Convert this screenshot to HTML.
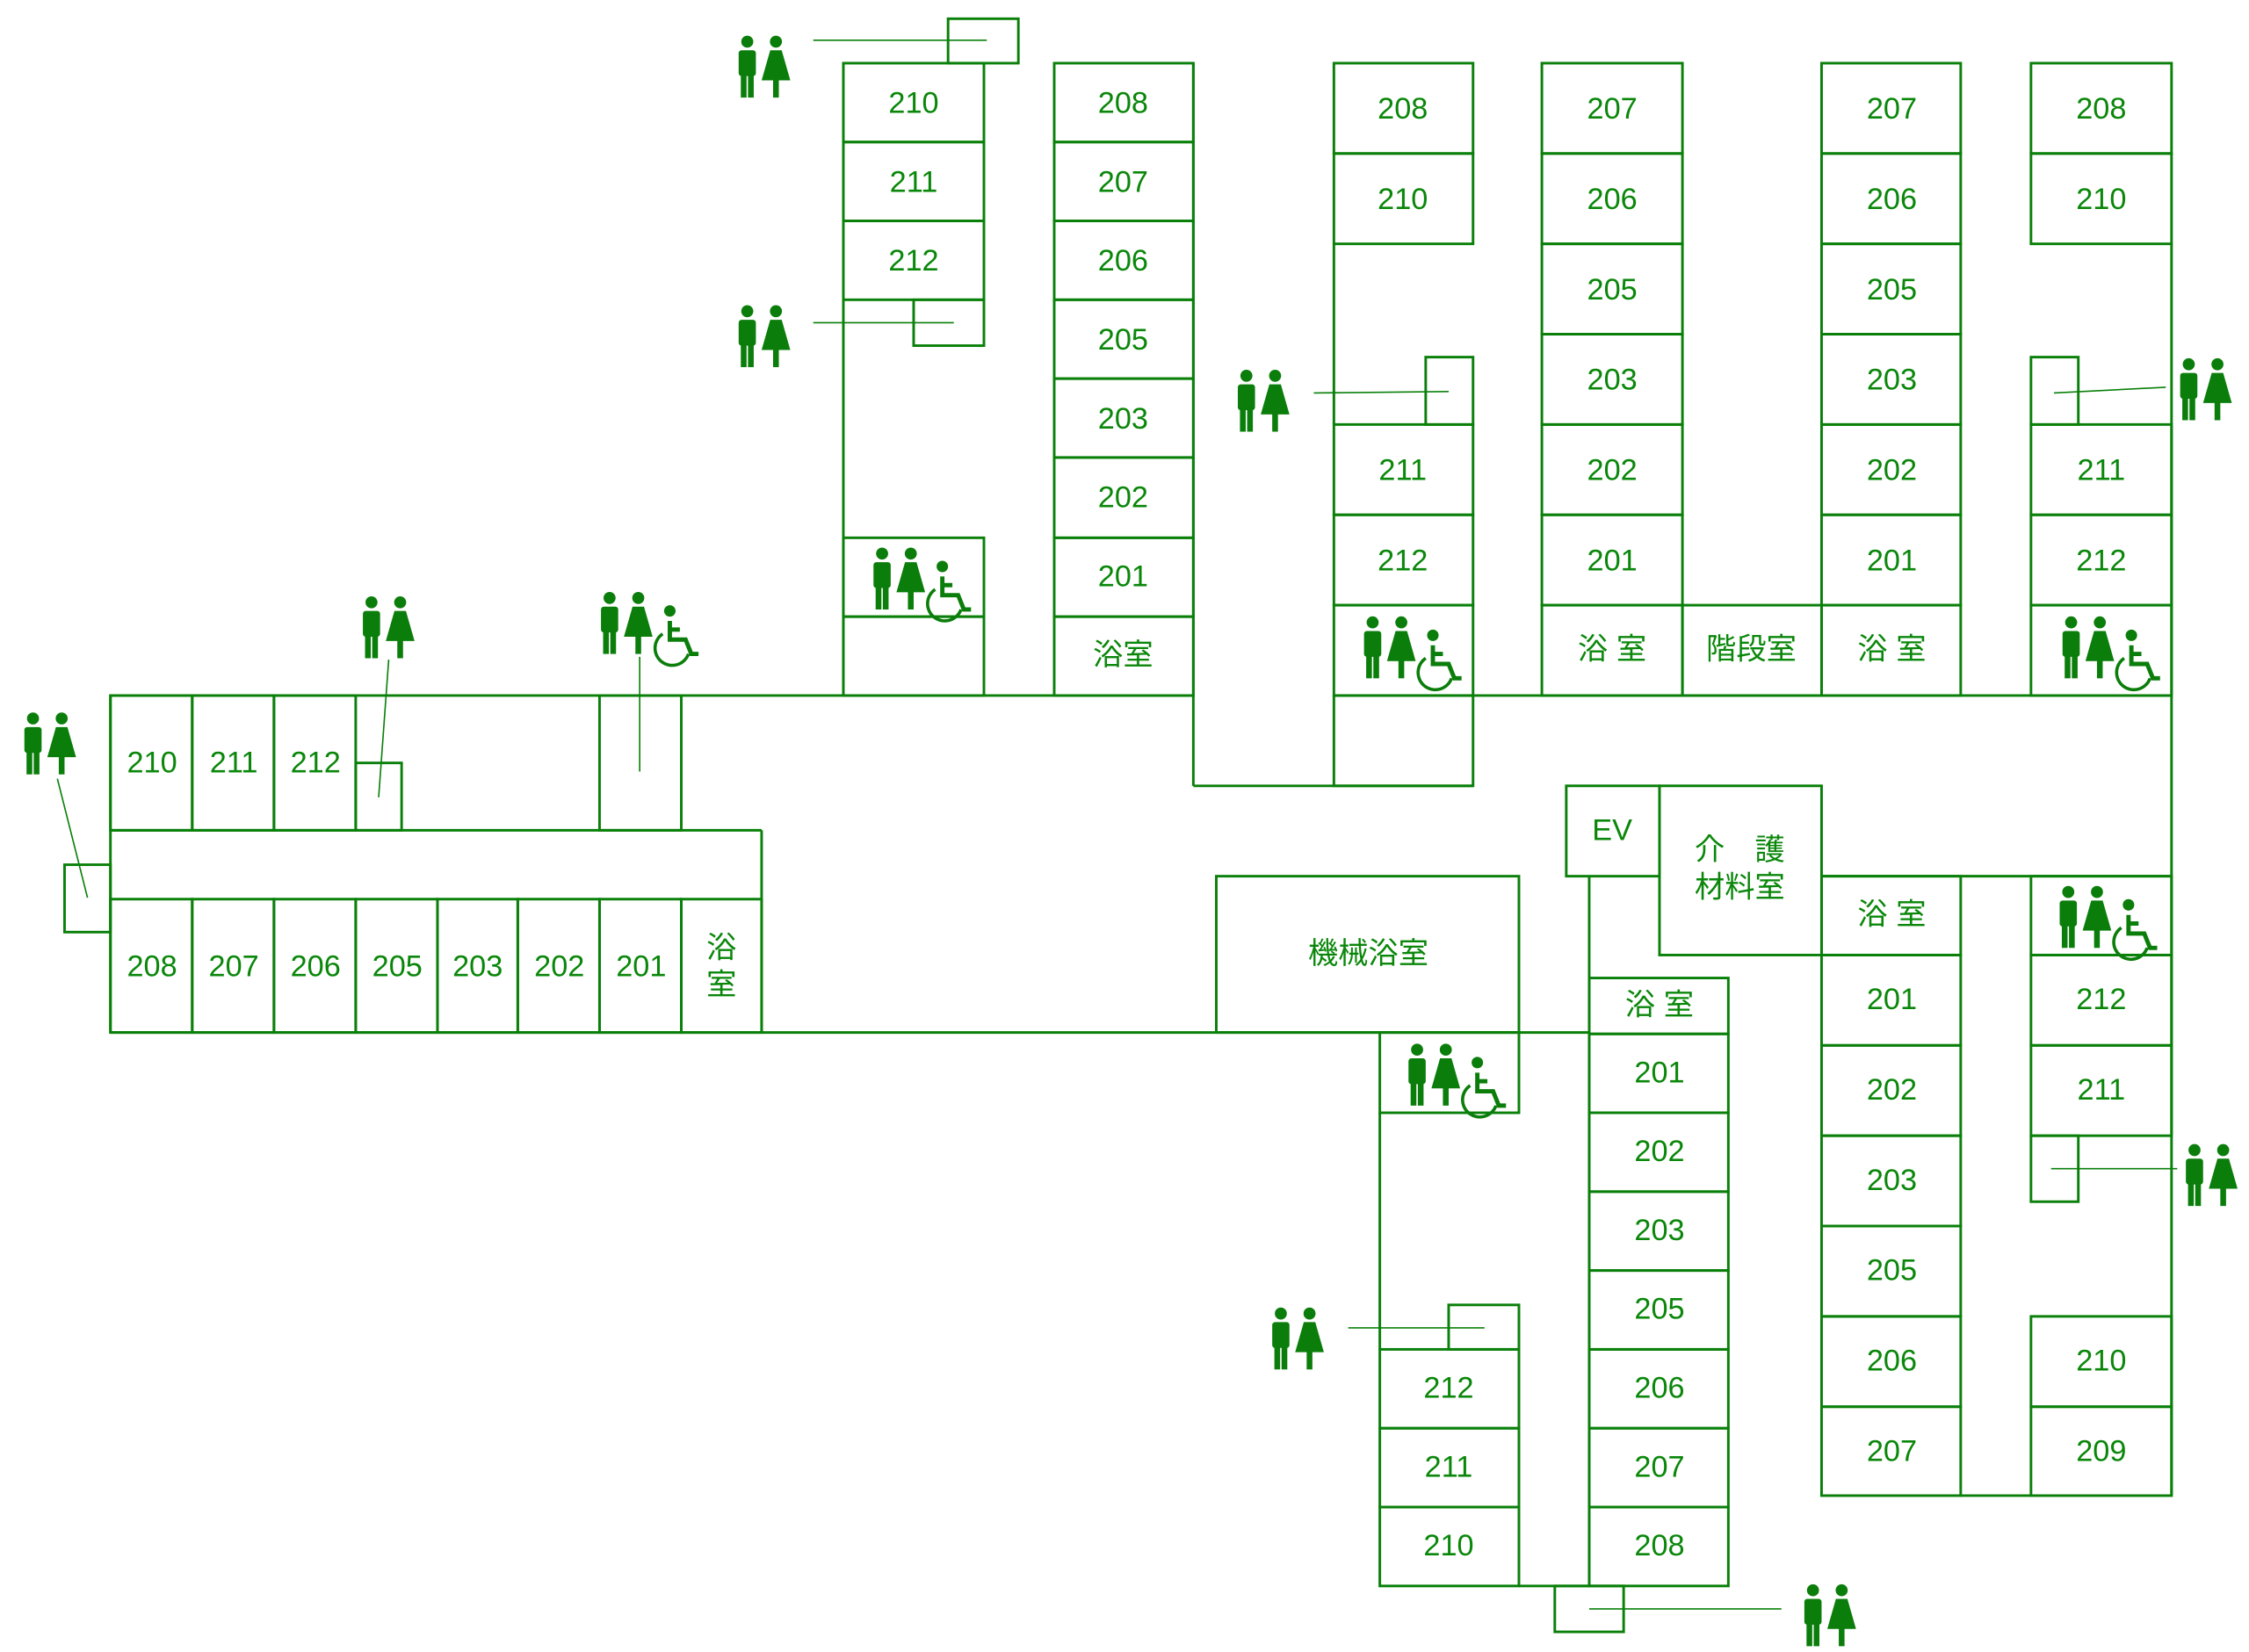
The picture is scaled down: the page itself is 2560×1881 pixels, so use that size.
<!DOCTYPE html>
<html><head><meta charset="utf-8"><style>
html,body{margin:0;padding:0;background:#fff;}
svg{display:block}
text{font-family:"Liberation Sans","Noto Sans CJK JP",sans-serif;fill:#0a870a;font-size:21px;text-anchor:middle;dominant-baseline:central}
</style></head><body>
<svg width="2560" height="1881" viewBox="0 0 1568 1152" xmlns="http://www.w3.org/2000/svg">
<defs>
<g id="mw" fill="#0a7d0a">
<circle cx="7" cy="4" r="4.2"/>
<rect x="1" y="10" width="12" height="18" rx="2"/>
<rect x="2.5" y="27" width="4" height="16"/><rect x="7.5" y="27" width="4" height="16"/>
<circle cx="27" cy="4" r="4.2"/>
<polygon points="23,10 31,10 37,31 17,31"/>
<rect x="25" y="30" width="4" height="13"/>
</g>
<g id="wc" fill="none" stroke="#0a7d0a" stroke-width="3">
<circle cx="9" cy="3" r="4" fill="#0a7d0a" stroke="none"/>
<path d="M9 10 V23 H20 L24 33 H29"/>
<path d="M9 16 H16"/>
<path d="M4 19 A12 12 0 1 0 22 33" stroke-width="2.2"/>
</g>
</defs>
<g fill="none" stroke="#0a800a" stroke-width="1.8">
<rect x="661" y="13" width="49" height="31"/>
<rect x="588" y="44" width="98" height="55"/><rect x="588" y="99" width="98" height="55"/><rect x="588" y="154" width="98" height="55"/>
<rect x="637" y="209" width="49" height="32"/>
<line x1="588" y1="209" x2="588" y2="485"/>
<rect x="588" y="375" width="98" height="55"/><rect x="588" y="430" width="98" height="55"/>
<rect x="735" y="44" width="97" height="55"/><rect x="735" y="99" width="97" height="55"/><rect x="735" y="154" width="97" height="55"/><rect x="735" y="209" width="97" height="55"/><rect x="735" y="264" width="97" height="55"/><rect x="735" y="319" width="97" height="56"/><rect x="735" y="375" width="97" height="55"/><rect x="735" y="430" width="97" height="55"/>
<line x1="832" y1="44" x2="832" y2="548"/><line x1="832" y1="548" x2="1027" y2="548"/>
<rect x="930" y="44" width="97" height="63"/><rect x="930" y="107" width="97" height="63"/>
<line x1="930" y1="170" x2="930" y2="296"/>
<rect x="994" y="249" width="33" height="47"/>
<rect x="930" y="296" width="97" height="63"/><rect x="930" y="359" width="97" height="63"/><rect x="930" y="422" width="97" height="63"/><rect x="930" y="485" width="97" height="63"/>
<rect x="1075" y="44" width="98" height="63"/><rect x="1075" y="107" width="98" height="63"/><rect x="1075" y="170" width="98" height="63"/><rect x="1075" y="233" width="98" height="63"/><rect x="1075" y="296" width="98" height="63"/><rect x="1075" y="359" width="98" height="63"/><rect x="1075" y="422" width="98" height="63"/>
<rect x="1173" y="422" width="97" height="63"/>
<rect x="1270" y="44" width="97" height="63"/><rect x="1270" y="107" width="97" height="63"/><rect x="1270" y="170" width="97" height="63"/><rect x="1270" y="233" width="97" height="63"/><rect x="1270" y="296" width="97" height="63"/><rect x="1270" y="359" width="97" height="63"/><rect x="1270" y="422" width="97" height="63"/>
<rect x="1416" y="44" width="98" height="63"/><rect x="1416" y="107" width="98" height="63"/>
<rect x="1416" y="249" width="33" height="47"/>
<rect x="1416" y="296" width="98" height="63"/><rect x="1416" y="359" width="98" height="63"/><rect x="1416" y="422" width="98" height="63"/>
<line x1="1514" y1="170" x2="1514" y2="1043"/>
<line x1="77" y1="485" x2="832" y2="485"/><line x1="1027" y1="485" x2="1514" y2="485"/>
<rect x="77" y="485" width="57" height="94"/><rect x="134" y="485" width="57" height="94"/><rect x="191" y="485" width="57" height="94"/>
<rect x="248" y="532" width="32" height="47"/>
<rect x="418" y="485" width="57" height="94"/>
<line x1="77" y1="579" x2="531" y2="579"/><line x1="531" y1="579" x2="531" y2="720"/>
<rect x="45" y="603" width="32" height="47"/>
<line x1="77" y1="485" x2="77" y2="720"/>
<rect x="77" y="627" width="57" height="93"/><rect x="134" y="627" width="57" height="93"/><rect x="191" y="627" width="57" height="93"/><rect x="248" y="627" width="57" height="93"/><rect x="305" y="627" width="56" height="93"/><rect x="361" y="627" width="57" height="93"/><rect x="418" y="627" width="57" height="93"/><rect x="475" y="627" width="56" height="93"/>
<line x1="77" y1="720" x2="1108" y2="720"/>
<rect x="848" y="611" width="211" height="109"/>
<rect x="1092" y="548" width="65" height="63"/>
<rect x="1157" y="548" width="113" height="118"/>
<line x1="1108" y1="611" x2="1108" y2="1106"/>
<line x1="1270" y1="611" x2="1514" y2="611"/>
<rect x="1270" y="611" width="97" height="55"/><rect x="1270" y="666" width="97" height="63"/><rect x="1270" y="729" width="97" height="63"/><rect x="1270" y="792" width="97" height="63"/><rect x="1270" y="855" width="97" height="63"/><rect x="1270" y="918" width="97" height="63"/><rect x="1270" y="981" width="97" height="62"/>
<rect x="1416" y="611" width="98" height="55"/><rect x="1416" y="666" width="98" height="63"/><rect x="1416" y="729" width="98" height="63"/>
<rect x="1416" y="792" width="33" height="46"/>
<rect x="1416" y="918" width="98" height="63"/><rect x="1416" y="981" width="98" height="62"/>
<line x1="1367" y1="1043" x2="1416" y2="1043"/>
<rect x="1108" y="682" width="97" height="39"/><rect x="1108" y="721" width="97" height="55"/><rect x="1108" y="776" width="97" height="55"/><rect x="1108" y="831" width="97" height="55"/><rect x="1108" y="886" width="97" height="55"/><rect x="1108" y="941" width="97" height="55"/><rect x="1108" y="996" width="97" height="55"/><rect x="1108" y="1051" width="97" height="55"/>
<rect x="962" y="720" width="97" height="56"/>
<line x1="962" y1="776" x2="962" y2="941"/>
<rect x="1010" y="910" width="49" height="31"/>
<rect x="962" y="941" width="97" height="55"/><rect x="962" y="996" width="97" height="55"/><rect x="962" y="1051" width="97" height="55"/>
<line x1="1059" y1="1106" x2="1108" y2="1106"/>
<rect x="1084" y="1106" width="48" height="32"/>
</g>
<g stroke="#0a800a" stroke-width="1">
<line x1="567" y1="28" x2="688" y2="28"/>
<line x1="567" y1="225" x2="665" y2="225"/>
<line x1="916" y1="274" x2="1010" y2="273"/>
<line x1="1432" y1="274" x2="1510" y2="270"/>
<line x1="271" y1="460" x2="264" y2="556"/>
<line x1="446" y1="458" x2="446" y2="538"/>
<line x1="40" y1="543" x2="61" y2="626"/>
<line x1="1430" y1="815" x2="1518" y2="815"/>
<line x1="940" y1="926" x2="1035" y2="926"/>
<line x1="1108" y1="1122" x2="1242" y2="1122"/>
</g>
<use href="#mw" x="514" y="25"/>
<use href="#mw" x="514" y="213"/>
<use href="#mw" x="862" y="258"/>
<use href="#mw" x="1519" y="250"/>
<use href="#mw" x="252" y="416"/>
<use href="#mw" x="16" y="497"/>
<use href="#mw" x="1523" y="798"/>
<use href="#mw" x="886" y="912"/>
<use href="#mw" x="1257" y="1105"/>
<use href="#mw" x="418" y="413"/><use href="#wc" x="458" y="423"/>
<use href="#mw" x="608" y="382"/><use href="#wc" x="648" y="392"/>
<use href="#mw" x="950" y="430"/><use href="#wc" x="990" y="440"/>
<use href="#mw" x="1437" y="430"/><use href="#wc" x="1477" y="440"/>
<use href="#mw" x="1435" y="618"/><use href="#wc" x="1475" y="628"/>
<use href="#mw" x="981" y="728"/><use href="#wc" x="1021" y="738"/>
<text x="637" y="72">210</text><text x="637" y="127">211</text><text x="637" y="182">212</text>
<text x="783" y="72">208</text><text x="783" y="127">207</text><text x="783" y="182">206</text><text x="783" y="237">205</text><text x="783" y="292">203</text><text x="783" y="347">202</text><text x="783" y="402">201</text><text x="783" y="457">浴室</text>
<text x="978" y="76">208</text><text x="978" y="139">210</text><text x="978" y="328">211</text><text x="978" y="391">212</text>
<text x="1124" y="76">207</text><text x="1124" y="139">206</text><text x="1124" y="202">205</text><text x="1124" y="265">203</text><text x="1124" y="328">202</text><text x="1124" y="391">201</text><text x="1124" y="453">浴 室</text>
<text x="1221" y="453">階段室</text>
<text x="1319" y="76">207</text><text x="1319" y="139">206</text><text x="1319" y="202">205</text><text x="1319" y="265">203</text><text x="1319" y="328">202</text><text x="1319" y="391">201</text><text x="1319" y="453">浴 室</text>
<text x="1465" y="76">208</text><text x="1465" y="139">210</text><text x="1465" y="328">211</text><text x="1465" y="391">212</text>
<text x="106" y="532">210</text><text x="163" y="532">211</text><text x="220" y="532">212</text>
<text x="106" y="674">208</text><text x="163" y="674">207</text><text x="220" y="674">206</text><text x="277" y="674">205</text><text x="333" y="674">203</text><text x="390" y="674">202</text><text x="447" y="674">201</text>
<text x="503" y="661">浴</text><text x="503" y="687">室</text>
<text x="954" y="665">機械浴室</text>
<text x="1124" y="579">EV</text>
<text x="1213" y="593">介　護</text><text x="1213" y="619">材料室</text>
<text x="1319" y="638">浴 室</text><text x="1319" y="697">201</text><text x="1319" y="760">202</text><text x="1319" y="823">203</text><text x="1319" y="886">205</text><text x="1319" y="949">206</text><text x="1319" y="1012">207</text>
<text x="1465" y="697">212</text><text x="1465" y="760">211</text><text x="1465" y="949">210</text><text x="1465" y="1012">209</text>
<text x="1157" y="701">浴 室</text><text x="1157" y="748">201</text><text x="1157" y="803">202</text><text x="1157" y="858">203</text><text x="1157" y="913">205</text><text x="1157" y="968">206</text><text x="1157" y="1023">207</text><text x="1157" y="1078">208</text>
<text x="1010" y="968">212</text><text x="1010" y="1023">211</text><text x="1010" y="1078">210</text>
</svg>
</body></html>
